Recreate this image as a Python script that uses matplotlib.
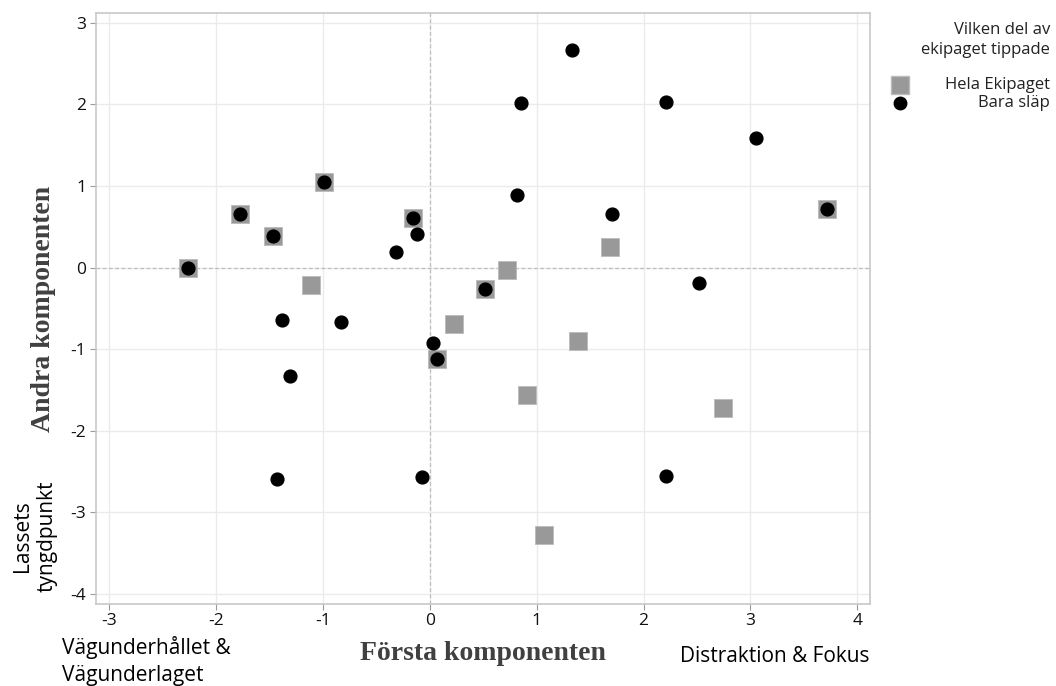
import matplotlib.pyplot as plt
from matplotlib.lines import Line2D

# Hela Ekipaget (grey squares)
hela_x = [-2.26, -1.78, -1.47, -0.99, -1.11, -0.16, 0.07, 0.23, 0.52, 0.72,
          0.91, 1.07, 1.39, 1.69, 2.74, 3.72]
hela_y = [0.0, 0.66, 0.39, 1.05, -0.21, 0.61, -1.12, -0.69, -0.26, -0.03,
          -1.56, -3.28, -0.90, 0.25, -1.72, 0.72]

# Bara släp (black dots)
slap_x = [-2.26, -1.78, -1.47, -0.99, -1.38, -1.31, -1.43, -0.83, -0.32, -0.16,
          -0.12, 0.03, 0.07, -0.07, 0.52, 0.82, 0.85, 1.33, 1.70, 2.21,
          2.52, 2.21, 3.05, 3.72]
slap_y = [0.0, 0.66, 0.39, 1.05, -0.64, -1.33, -2.59, -0.67, 0.19, 0.61,
          0.41, -0.92, -1.12, -2.57, -0.26, 0.89, 2.01, 2.67, 0.65, 2.03,
          -0.19, -2.56, 1.59, 0.72]

xticks = [-3, -2, -1, 0, 1, 2, 3, 4]
yticks = [-4, -3, -2, -1, 0, 1, 2, 3]

plt.rcParams['font.family'] = ['Open Sans', 'DejaVu Sans']
plt.rcParams['axes.unicode_minus'] = False

fig = plt.figure(figsize=(10.56, 6.86), dpi=100)
ax = fig.add_axes([0.0906, 0.12, 0.7333, 0.8606])

ax.set_xlim(-3.127, 4.119)
ax.set_ylim(-4.119, 3.115)
ax.set_xticks(xticks)
ax.set_yticks(yticks)
ax.grid(True, color='#ebebeb', linewidth=1)
ax.set_axisbelow(True)
ax.axhline(0, color='#bdbdbd', linestyle=(0, (3, 2)), linewidth=0.9, zorder=1)
ax.axvline(0, color='#bdbdbd', linestyle=(0, (3, 2)), linewidth=0.9, zorder=1)

for s in ax.spines.values():
    s.set_color('#c8c8c8')
    s.set_linewidth(1.2)
ax.tick_params(colors='#999999', labelcolor='#111111', labelsize=12.5, length=4.5,
               width=0.8, pad=2.5)

ax.scatter(hela_x, hela_y, marker='s', s=175, color='#999999', edgecolors='#bbbbbb',
           linewidths=0.6, zorder=3)
ax.scatter(slap_x, slap_y, marker='o', s=85, color='black', zorder=4)

ax.set_xlabel('Första komponenten', family='Liberation Serif', fontweight='bold',
              fontsize=20, color='#404040', labelpad=8)
ax.set_ylabel('Andra komponenten', family='Liberation Serif', fontweight='bold',
              fontsize=20, color='#404040', labelpad=10)

fig.text(62 / 1056, 1 - 661 / 686, 'Vägunderhållet &\nVägunderlaget', fontsize=15,
         ha='left', va='center', linespacing=1.35)
fig.text(870 / 1056, 1 - 657 / 686, 'Distraktion & Fokus', fontsize=15,
         ha='right', va='center')
fig.text(35 / 1056, 1 - 536 / 686, 'Lassets\ntyngdpunkt', fontsize=15,
         ha='center', va='center', rotation=90, linespacing=1.2)

# legend
fig.text(1050 / 1056, 1 - 40 / 686, 'Vilken del av\nekipaget tippade', fontsize=12,
         ha='right', va='center', color='#222222', linespacing=1.25)
fig.text(1050 / 1056, 1 - 85 / 686, 'Hela Ekipaget', fontsize=12, ha='right',
         va='center', color='#222222')
fig.text(1050 / 1056, 1 - 103 / 686, 'Bara släp', fontsize=12, ha='right',
         va='center', color='#222222')
fig.add_artist(Line2D([900 / 1056], [1 - 85 / 686], marker='s', markersize=13,
                      color='#999999', markeredgecolor='#bbbbbb', linestyle='none'))
fig.add_artist(Line2D([900 / 1056], [1 - 103 / 686], marker='o', markersize=9,
                      color='black', linestyle='none'))

fig.savefig('out.png', dpi=100)
